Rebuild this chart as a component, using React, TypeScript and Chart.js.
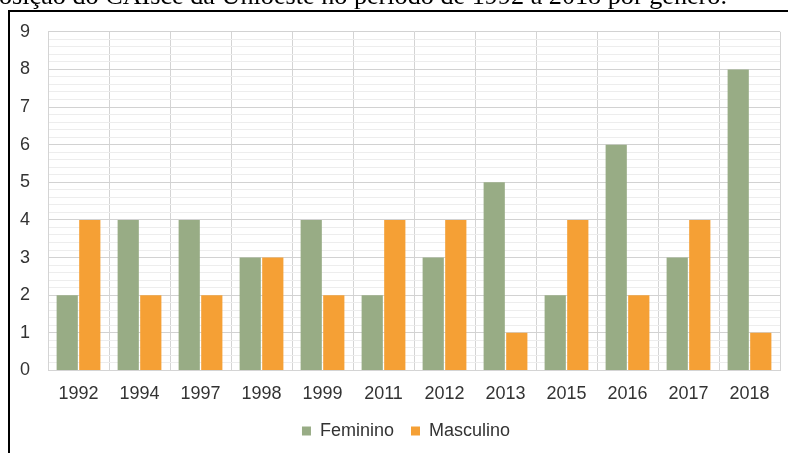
import React, { useEffect, useRef } from "react";
import { Chart, registerables } from "chart.js";

Chart.register(...registerables);

const categories = ["1992", "1994", "1997", "1998", "1999", "2011", "2012", "2013", "2015", "2016", "2017", "2018"];
const feminino = [2, 4, 4, 3, 4, 2, 3, 5, 2, 6, 3, 8];
const masculino = [4, 2, 2, 3, 2, 4, 4, 1, 4, 2, 4, 1];
const seriesNames = ["Feminino", "Masculino"];
const titleText = "osição do CAIsce da Unioeste no período de 1992 a 2018 por gênero.";

const FONT = "'Liberation Sans', Arial, sans-serif";

const shiftLegend = {
  id: "shiftLegend",
  beforeDraw(chart: any) {
    const l = chart.legend;
    if (l) {
      l.left += 15;
      l.right += 15;
    }
  },
};

export default function App() {
  const ref = useRef<HTMLCanvasElement | null>(null);

  useEffect(() => {
    document.body.style.margin = "0";
    document.body.style.overflow = "hidden";
    const canvas = ref.current;
    if (!canvas) return;
    const chart = new Chart(canvas, {
      type: "bar",
      data: {
        labels: categories,
        datasets: [
          {
            label: seriesNames[0],
            data: feminino,
            backgroundColor: "#98ac85",
            categoryPercentage: 0.74,
            barPercentage: 0.94,
          },
          {
            label: seriesNames[1],
            data: masculino,
            backgroundColor: "#f5a035",
            categoryPercentage: 0.74,
            barPercentage: 0.94,
          },
        ],
      },
      plugins: [shiftLegend],
      options: {
        responsive: false,
        animation: false,
        devicePixelRatio: 1,
        layout: { padding: { left: 10, top: 8, right: 44, bottom: 12 } },
        plugins: {
          title: { display: false },
          tooltip: { enabled: false },
          legend: {
            position: "bottom",
            labels: {
              boxWidth: 9,
              boxHeight: 9,
              padding: 17,
              color: "#333333",
              font: { family: FONT, size: 18 },
            },
          },
        },
        scales: {
          x: {
            offset: true,
            grid: { color: "#d4d4d4", drawTicks: false, offset: true },
            border: { color: "#d4d4d4" },
            ticks: { color: "#333333", padding: 13, font: { family: FONT, size: 18 }, maxRotation: 0 },
            afterFit: (scale: any) => {
              scale.height -= 13;
            },
          },
          y: {
            min: 0,
            max: 9,
            grid: {
              drawTicks: false,
              color: (ctx: any) => {
                const v = ctx.tick ? ctx.tick.value : 0;
                return Math.abs(v - Math.round(v)) < 1e-6 ? "#d2d2d2" : "#ededed";
              },
            },
            border: { color: "#d4d4d4" },
            ticks: {
              stepSize: 0.2,
              autoSkip: false,
              padding: 18,
              color: "#333333",
              font: { family: FONT, size: 18 },
              callback: (v: any) => {
                const n = Number(v);
                return Math.abs(n - Math.round(n)) < 1e-6 ? String(Math.round(n)) : "";
              },
            },
          },
        },
      },
    });
    return () => chart.destroy();
  }, []);

  return (
    <div style={{ position: "absolute", left: 0, top: 0, width: 788, height: 453, overflow: "hidden", background: "#ffffff" }}>
      <canvas
        ref={ref}
        width={832}
        height={459}
        style={{ display: "block", position: "absolute", left: -8, top: 3 }}
      />
      <div style={{ position: "absolute", left: 0, top: 0, width: 788, height: 10, background: "#fff" }} />
      <div style={{ position: "absolute", left: 0, top: 0, width: 8, height: 453, background: "#fff" }} />
      <span
        style={{
          position: "absolute",
          left: -1,
          top: -17,
          fontFamily: "'Liberation Serif', 'Times New Roman', serif",
          fontSize: 26.2,
          lineHeight: "26px",
          whiteSpace: "nowrap",
          color: "#000",
        }}
      >
        {titleText}
      </span>
      <div
        style={{
          position: "absolute",
          left: 8,
          top: 10,
          width: 820,
          height: 460,
          borderLeft: "2px solid #000",
          borderTop: "2px solid #000",
          pointerEvents: "none",
        }}
      />
    </div>
  );
}
